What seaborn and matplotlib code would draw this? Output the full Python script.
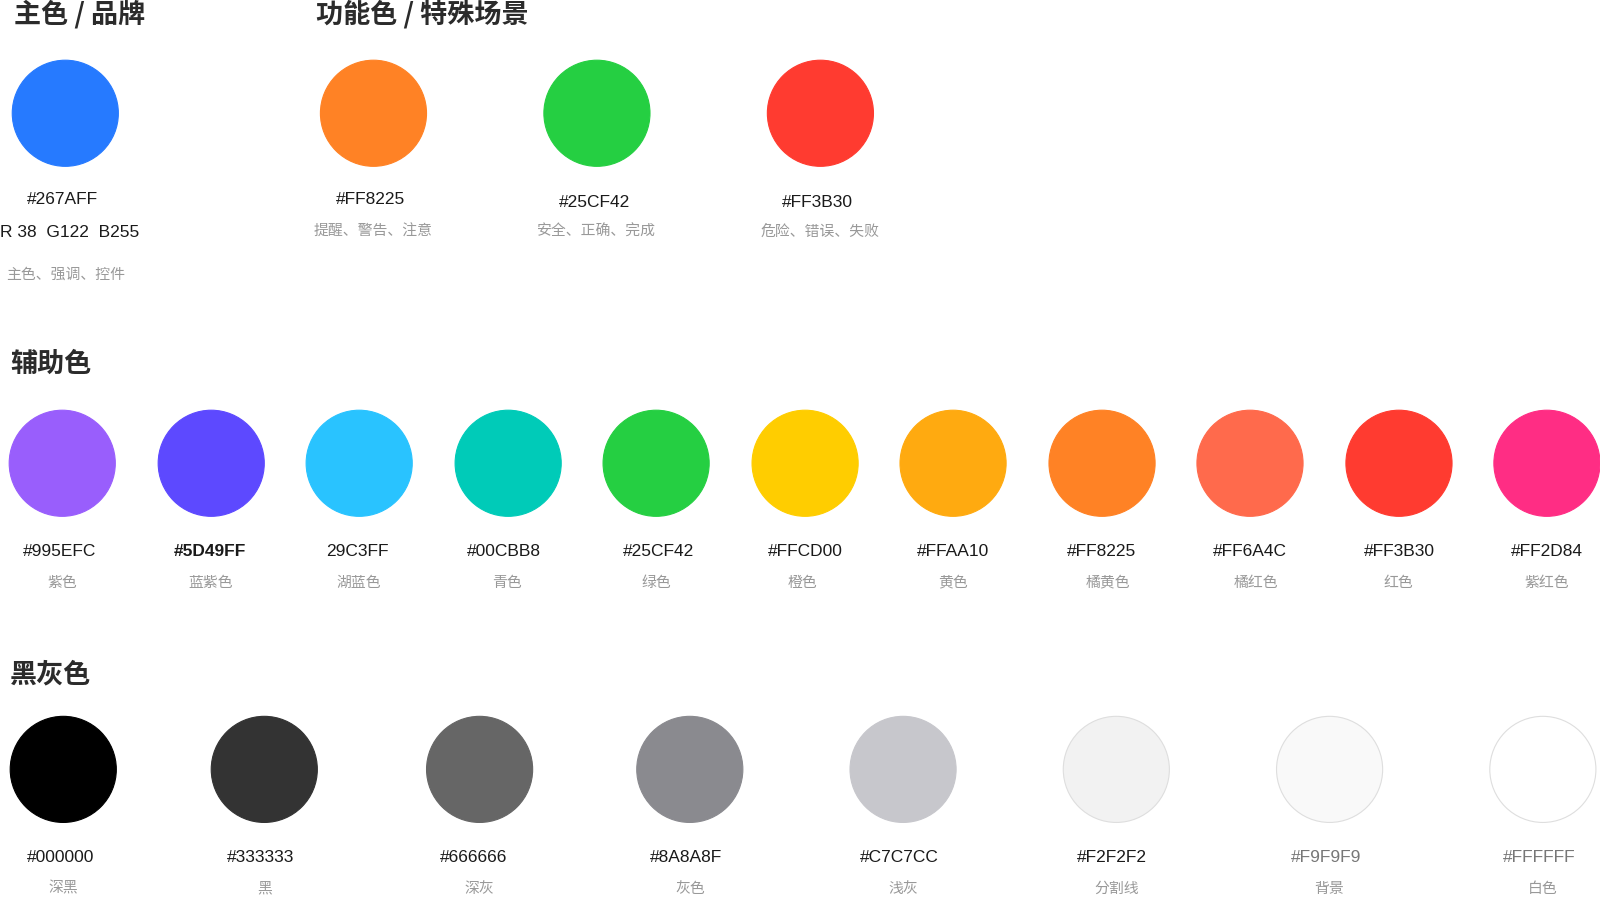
import pandas as pd
import matplotlib
matplotlib.use("Agg")
import matplotlib.pyplot as plt
import seaborn as sns

sns.set_style("white")
plt.rcParams["font.family"] = ["Noto Sans CJK SC", "DejaVu Sans"]

# ----------------------------------------------------------
# data: swatch hex codes and their descriptions
brand_hex = ["#267AFF"]
brand_desc = ["主色、强调、控件"]
brand_rgb = "R 38  G122  B255"

func_hex = ["#FF8225", "#25CF42", "#FF3B30"]
func_desc = ["提醒、警告、注意", "安全、正确、完成", "危险、错误、失败"]

aux_hex = ["#995EFC", "#5D49FF", "#29C3FF", "#00CBB8", "#25CF42", "#FFCD00",
           "#FFAA10", "#FF8225", "#FF6A4C", "#FF3B30", "#FF2D84"]
aux_label = ["#995EFC", "#5D49FF", "29C3FF", "#00CBB8", "#25CF42", "#FFCD00",
             "#FFAA10", "#FF8225", "#FF6A4C", "#FF3B30", "#FF2D84"]
aux_desc = ["紫色", "蓝紫色", "湖蓝色", "青色", "绿色", "橙色",
            "黄色", "橘黄色", "橘红色", "红色", "紫红色"]

gray_hex = ["#000000", "#333333", "#666666", "#8A8A8F", "#C7C7CC",
            "#F2F2F2", "#F9F9F9", "#FFFFFF"]
gray_desc = ["深黑", "黑", "深灰", "灰色", "浅灰", "分割线", "背景", "白色"]

headings = ["主色 / 品牌", "功能色 / 特殊场景", "辅助色", "黑灰色"]

# ----------------------------------------------------------
# layout (canvas units, 1568 x 882 design grid)
W, H = 1568, 882
top_x = [64, 366, 585, 804]
top_y = 111
aux_x = [61, 207, 352, 498, 643, 789, 934, 1080, 1225, 1371, 1516]
aux_lab_x = [58, 206, 350, 494, 645, 789, 934, 1080, 1225, 1371, 1516]
aux_desc_x = [61, 206, 352, 497, 643, 786, 934, 1086, 1231, 1370, 1516]
aux_y = 454
gray_x = [62, 259, 470, 676, 885, 1094, 1303, 1512]
gray_lab_x = [59, 255, 464, 672, 881, 1090, 1300, 1508]
gray_y = 754

rows = []
for x, h in zip(top_x, brand_hex + func_hex):
    rows.append({"x": x, "y": top_y, "hex": h})
for x, h in zip(aux_x, aux_hex):
    rows.append({"x": x, "y": aux_y, "hex": h})
for x, h in zip(gray_x, gray_hex):
    rows.append({"x": x, "y": gray_y, "hex": h})
df = pd.DataFrame(rows)
light = {"#F2F2F2", "#F9F9F9", "#FFFFFF"}
edges = ["#DEDEDE" if h in light else h for h in df["hex"]]

fig = plt.figure(figsize=(16, 9), dpi=100)
ax = fig.add_axes([0, 0, 1, 1])
diam_pt = 104 * (1600 / W) * 72 / 100
sns.scatterplot(data=df, x="x", y="y", hue="hex",
                palette={h: h for h in df["hex"].unique()},
                s=diam_pt ** 2, edgecolor=edges, linewidth=0.8,
                legend=False, ax=ax)
ax.set_xlim(0, W)
ax.set_ylim(H, 0)
ax.set_axis_off()

DARK = "#1a1a1a"
GREY = "#999999"
hex_font = ["Liberation Sans", "DejaVu Sans"]
HEX_FS = 12.5
DESC_FS = 10.7

# headings
head_kw = dict(fontsize=19.5, color="#2b2b2b", va="center", ha="left", fontweight="bold")
ax.text(14, 14, headings[0], **head_kw)
ax.text(310, 14, headings[1], **head_kw)
ax.text(10, 357, headings[2], **head_kw)
ax.text(10, 661, headings[3], **head_kw)

# top row labels
top_hex_x = [61, 363, 583, 801]
top_hex_y = [196, 196, 198, 198]
for x, h, yy in zip(top_hex_x, brand_hex + func_hex, top_hex_y):
    ax.text(x, yy, h, fontsize=HEX_FS, color=DARK, ha="center", va="center", family=hex_font)
ax.text(0, 228, brand_rgb, fontsize=HEX_FS, color=DARK, ha="left", va="center", family=hex_font)
ax.text(top_x[0], 269, brand_desc[0], fontsize=DESC_FS, color=GREY, ha="center", va="center")
for x, d in zip(top_x[1:], func_desc):
    ax.text(x, 227, d, fontsize=DESC_FS, color=GREY, ha="center", va="center")

# auxiliary row labels
for i, (lx, dx, lab, d) in enumerate(zip(aux_lab_x, aux_desc_x, aux_label, aux_desc)):
    ax.text(lx, 540, lab, fontsize=HEX_FS, color=DARK, ha="center", va="center",
            family=hex_font, fontweight="bold" if i == 1 else "normal")
    ax.text(dx, 571, d, fontsize=DESC_FS, color=GREY, ha="center", va="center")

# gray row labels
for h, x, lx, d in zip(gray_hex, gray_x, gray_lab_x, gray_desc):
    col = "#777777" if h in ("#F9F9F9", "#FFFFFF") else DARK
    ax.text(lx, 840, h, fontsize=HEX_FS, color=col, ha="center", va="center", family=hex_font)
    ax.text(x, 871, d, fontsize=DESC_FS, color=GREY, ha="center", va="center")

fig.savefig("out.png", dpi=100, facecolor="white")
